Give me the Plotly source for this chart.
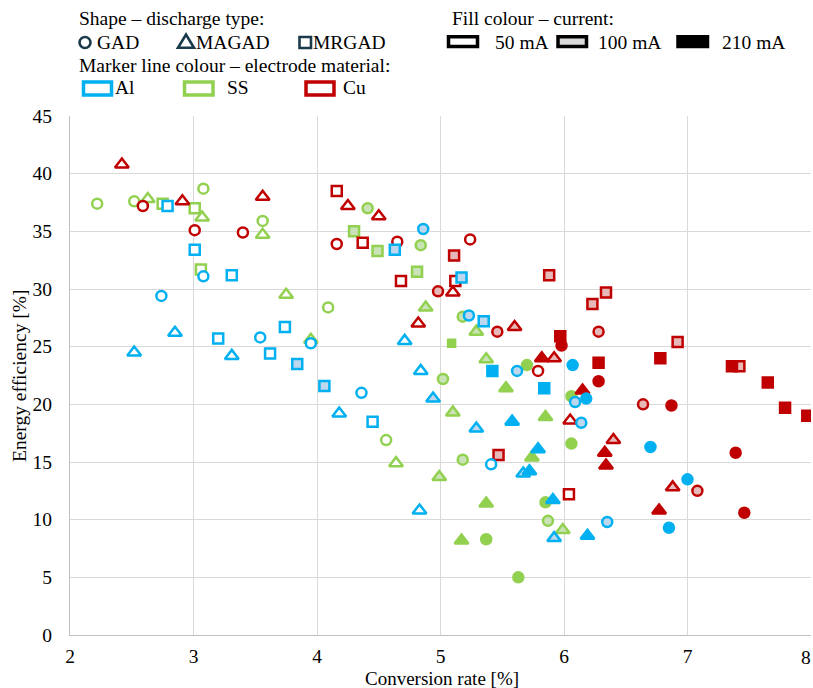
import plotly.graph_objects as go

# ---------------- data ----------------
# (discharge type, current in mA, conversion rate [%], energy efficiency [%])
ss_points = [
    ("GAD", 50, 2.22, 37.4), ("GAD", 50, 2.52, 37.6), ("MAGAD", 50, 2.63, 37.8), ("MRGAD", 50, 2.75, 37.4),
    ("GAD", 50, 3.08, 38.7), ("MRGAD", 50, 3.01, 37.0), ("MAGAD", 50, 3.07, 36.2), ("GAD", 50, 3.56, 35.9),
    ("MAGAD", 50, 3.56, 34.7), ("MRGAD", 50, 3.06, 31.7), ("MAGAD", 50, 3.75, 29.5), ("MAGAD", 50, 3.95, 25.6),
    ("GAD", 100, 4.41, 37.0), ("MRGAD", 100, 4.30, 35.0), ("MRGAD", 100, 4.49, 33.3), ("GAD", 100, 4.84, 33.8),
    ("MRGAD", 100, 4.81, 31.5), ("GAD", 50, 4.09, 28.4), ("MAGAD", 100, 4.88, 28.4), ("GAD", 100, 5.18, 27.6),
    ("MAGAD", 100, 5.29, 26.3), ("MRGAD", 210, 5.09, 25.3), ("MAGAD", 100, 5.37, 23.9), ("GAD", 210, 5.70, 23.4),
    ("GAD", 100, 5.02, 22.2), ("MAGAD", 100, 5.10, 19.3), ("MAGAD", 210, 5.85, 18.9), ("GAD", 50, 4.56, 16.9),
    ("GAD", 100, 5.18, 15.2), ("MAGAD", 50, 4.64, 14.9), ("MAGAD", 100, 4.99, 13.7), ("MAGAD", 210, 5.74, 15.4),
    ("MAGAD", 210, 5.37, 11.4), ("GAD", 210, 5.85, 11.5), ("GAD", 100, 5.87, 9.9), ("MAGAD", 210, 5.17, 8.2),
    ("GAD", 210, 5.37, 8.3), ("MAGAD", 210, 5.53, 21.4), ("GAD", 210, 5.63, 5.0), ("GAD", 210, 6.06, 20.7),
    ("GAD", 210, 6.06, 16.6), ("MAGAD", 100, 5.99, 9.1),
]
cu_points = [
    ("MAGAD", 50, 2.42, 40.8), ("GAD", 50, 2.59, 37.2), ("MAGAD", 50, 2.91, 37.6), ("GAD", 50, 3.01, 35.1),
    ("GAD", 50, 3.40, 34.9), ("MAGAD", 50, 3.56, 38.0), ("MRGAD", 50, 4.16, 38.5), ("MAGAD", 50, 4.25, 37.2),
    ("MAGAD", 50, 4.50, 36.3), ("GAD", 50, 4.16, 33.9), ("MRGAD", 50, 4.37, 34.0), ("GAD", 50, 4.65, 34.1),
    ("GAD", 50, 5.24, 34.3), ("MRGAD", 100, 5.11, 32.9), ("MRGAD", 50, 4.68, 30.7), ("MRGAD", 50, 5.12, 30.7),
    ("GAD", 100, 4.98, 29.8), ("MAGAD", 50, 5.10, 29.7), ("MRGAD", 100, 5.88, 31.2), ("MAGAD", 50, 4.82, 27.0),
    ("GAD", 100, 5.46, 26.3), ("MAGAD", 100, 5.60, 26.7), ("GAD", 50, 5.79, 22.9), ("MAGAD", 210, 5.82, 24.0),
    ("MAGAD", 100, 5.92, 24.0), ("MRGAD", 210, 5.97, 25.9), ("GAD", 210, 5.98, 25.1), ("MRGAD", 100, 5.47, 15.6),
    ("MRGAD", 100, 6.34, 29.7), ("MRGAD", 100, 6.23, 28.7), ("GAD", 100, 6.28, 26.3), ("MRGAD", 100, 6.92, 25.4),
    ("MRGAD", 210, 6.28, 23.6), ("MRGAD", 210, 6.78, 24.0), ("MRGAD", 210, 7.36, 23.3), ("MRGAD", 100, 7.42, 23.3),
    ("GAD", 210, 6.28, 22.0), ("MRGAD", 210, 7.65, 21.9), ("MAGAD", 210, 6.15, 21.2), ("GAD", 100, 6.64, 20.0),
    ("GAD", 210, 6.87, 19.9), ("MRGAD", 210, 7.79, 19.7), ("MRGAD", 210, 7.97, 19.0), ("MAGAD", 50, 6.05, 18.6),
    ("MAGAD", 100, 6.40, 16.9), ("MAGAD", 210, 6.33, 15.8), ("MAGAD", 210, 6.34, 14.7), ("GAD", 210, 7.39, 15.8),
    ("MAGAD", 100, 6.88, 12.8), ("GAD", 100, 7.08, 12.5), ("MRGAD", 50, 6.04, 12.2), ("MAGAD", 210, 6.77, 10.8),
    ("GAD", 210, 7.46, 10.6),
]
al_points = [
    ("MRGAD", 50, 2.79, 37.2), ("MRGAD", 50, 3.01, 33.4), ("GAD", 50, 3.08, 31.1), ("MRGAD", 50, 3.31, 31.2),
    ("GAD", 50, 2.74, 29.4), ("MAGAD", 50, 2.85, 26.2), ("MRGAD", 50, 3.20, 25.7), ("GAD", 50, 3.54, 25.8),
    ("MRGAD", 50, 3.74, 26.7), ("MAGAD", 50, 2.52, 24.5), ("MAGAD", 50, 3.31, 24.2), ("MRGAD", 50, 3.62, 24.4),
    ("MRGAD", 100, 3.84, 23.5), ("GAD", 50, 3.95, 25.3), ("GAD", 100, 4.86, 35.2), ("MRGAD", 100, 4.63, 33.4),
    ("MRGAD", 100, 5.17, 31.0), ("GAD", 100, 5.23, 27.7), ("MRGAD", 100, 5.35, 27.2), ("MAGAD", 50, 4.71, 25.5),
    ("MRGAD", 210, 5.42, 22.9), ("GAD", 100, 5.62, 22.9), ("MAGAD", 50, 4.84, 22.9), ("MRGAD", 100, 4.06, 21.6),
    ("GAD", 50, 4.36, 21.0), ("MAGAD", 100, 4.94, 20.5), ("MAGAD", 50, 4.18, 19.2), ("MRGAD", 50, 4.45, 18.5),
    ("MAGAD", 100, 5.29, 17.9), ("MAGAD", 210, 5.58, 18.5), ("GAD", 50, 5.41, 14.8), ("MAGAD", 210, 5.79, 16.1),
    ("MAGAD", 100, 5.67, 14.0), ("MAGAD", 210, 5.72, 14.2), ("MAGAD", 50, 4.83, 10.8), ("MAGAD", 210, 5.91, 11.7),
    ("MAGAD", 100, 5.92, 8.4), ("MRGAD", 210, 5.84, 21.4), ("GAD", 210, 6.07, 23.4), ("GAD", 100, 6.09, 20.2),
    ("GAD", 210, 6.18, 20.5), ("GAD", 100, 6.14, 18.4), ("GAD", 210, 6.70, 16.3), ("GAD", 210, 7.00, 13.5),
    ("GAD", 100, 6.35, 9.8), ("GAD", 210, 6.85, 9.3), ("MAGAD", 210, 6.19, 8.6),
]

x_ticks = [2, 3, 4, 5, 6, 7, 8]
y_ticks = [0, 5, 10, 15, 20, 25, 30, 35, 40, 45]
materials = {"SS": ss_points, "Cu": cu_points, "Al": al_points}   # drawing order
discharge_types = ["GAD", "MAGAD", "MRGAD"]
currents = [50, 100, 210]

# ---------------- styles ----------------
FONT = "Liberation Serif, Times New Roman, Tinos, serif"
line_col = {"Al": "#00B0F0", "SS": "#92D050", "Cu": "#C00000"}
light_col = {"Al": "#BDD7EE", "SS": "#C9E3B6", "Cu": "#E6B9B8"}
symbol = {"GAD": "circle", "MAGAD": "triangle-up", "MRGAD": "square"}
msize = {"GAD": 10, "MAGAD": 12, "MRGAD": 10}


def fill_for(mat, cur):
    if cur == 50:
        return "#FFFFFF"
    if cur == 100:
        return light_col[mat]
    return line_col[mat]


fig = go.Figure()
for mat, pts in materials.items():
    for cur in currents:
        for dt in discharge_types:
            sel = [p for p in pts if p[0] == dt and p[1] == cur]
            if not sel:
                continue
            size = msize[dt]
            if mat == "SS" and dt == "MRGAD" and cur == 210:
                size = 7
            fig.add_trace(go.Scatter(
                x=[p[2] for p in sel], y=[p[3] for p in sel], mode="markers", showlegend=False,
                name=f"{mat} {dt} {cur} mA",
                marker=dict(symbol=symbol[dt], size=size, color=fill_for(mat, cur),
                            line=dict(color=line_col[mat], width=2.5)),
            ))

# ---------------- layout ----------------
L, R, T, B, W, H = 70, 2, 116, 53, 813, 688
PW, PH = W - L - R, H - T - B


def px(xpix):
    return (xpix - L) / PW


def py(ypix):
    return (H - B - ypix) / PH


shapes = []
annotations = []
NAVY = "#1B3A4B"
fs = 19.5


def text(s, x, y):
    # x: desired left pixel of the glyphs
    annotations.append(dict(text=s, x=px(x - 2), y=py(y), xref="paper", yref="paper",
                            xanchor="left", yanchor="middle", showarrow=False,
                            font=dict(family=FONT, size=fs, color="#000000")))


# Shape legend
text("Shape – discharge type:", 79, 18)
shapes.append(dict(type="circle", xref="paper", yref="paper",
                   x0=px(79.5), x1=px(90.5), y0=py(48), y1=py(37),
                   line=dict(color=NAVY, width=2.6), fillcolor="#FFFFFF"))
text("GAD", 97, 42)
shapes.append(dict(type="path", xref="paper", yref="paper",
                   path=f"M {px(178)} {py(47.8)} L {px(194)} {py(47.8)} L {px(186)} {py(34.5)} Z",
                   line=dict(color=NAVY, width=2.6), fillcolor="#FFFFFF"))
text("MAGAD", 196, 42)
shapes.append(dict(type="rect", xref="paper", yref="paper",
                   x0=px(299.5), x1=px(311), y0=py(48), y1=py(37),
                   line=dict(color=NAVY, width=2.6), fillcolor="#FFFFFF"))
text("MRGAD", 313, 42)

# Line colour legend
text("Marker line colour – electrode material:", 79, 65)
for (x0, x1, mat, tx, lbl) in [(83.5, 111.5, "Al", 115, "Al"), (184.5, 213, "SS", 227, "SS"),
                               (306, 334, "Cu", 343, "Cu")]:
    shapes.append(dict(type="rect", xref="paper", yref="paper",
                       x0=px(x0), x1=px(x1), y0=py(95), y1=py(82),
                       line=dict(color=line_col[mat], width=3.5), fillcolor="#FFFFFF"))
    text(lbl, tx, 88)

# Fill legend
text("Fill colour – current:", 452, 18)
for (x0, x1, fc, tx, lbl) in [(448.5, 477.5, "#FFFFFF", 495, "50 mA"),
                              (558, 586.5, "#D9D9D9", 598, "100 mA"),
                              (678, 707.5, "#000000", 722, "210 mA")]:
    shapes.append(dict(type="rect", xref="paper", yref="paper",
                       x0=px(x0), x1=px(x1), y0=py(46.5), y1=py(36.8),
                       line=dict(color="#000000", width=3.5), fillcolor=fc))
    text(lbl, tx, 42)

# Axis titles
annotations.append(dict(text="Conversion rate [%]", x=px(442), y=py(678), xref="paper", yref="paper",
                        xanchor="center", yanchor="middle", showarrow=False, borderpad=0,
                        font=dict(family=FONT, size=19, color="#000000")))
annotations.append(dict(text="Energy efficiency [%]", x=px(19), y=py(376), xref="paper", yref="paper",
                        xanchor="center", yanchor="middle", showarrow=False, textangle=-90,
                        font=dict(family=FONT, size=fs, color="#000000")))

# last x tick label, nudged inside the page like the reference
x_ticktext = [str(v) for v in x_ticks]
last_label = x_ticktext[-1]
x_ticktext[-1] = ""
annotations.append(dict(text=last_label, x=px(806), y=py(657), xref="paper", yref="paper",
                        xanchor="center", yanchor="middle", showarrow=False, borderpad=0,
                        font=dict(family=FONT, size=fs, color="#000000")))

fig.update_layout(
    width=W, height=H,
    margin=dict(l=L, r=R, t=T, b=B, autoexpand=False),
    paper_bgcolor="#FFFFFF", plot_bgcolor="#FFFFFF",
    font=dict(family=FONT, size=fs, color="#000000"),
    shapes=shapes, annotations=annotations,
    xaxis=dict(range=[2, 8], tickvals=x_ticks, ticktext=x_ticktext,
               showgrid=True, gridcolor="#D9D9D9", gridwidth=1.3, zeroline=False,
               showline=True, linecolor="#BFBFBF", linewidth=1.3, ticks="",
               ticklabeloverflow="allow",
               ticklabelstandoff=3, tickfont=dict(family=FONT, size=fs, color="#000000")),
    yaxis=dict(range=[0, 45], tickvals=y_ticks, ticktext=[str(v) for v in y_ticks],
               showgrid=True, gridcolor="#D9D9D9", gridwidth=1.3, zeroline=False,
               showline=True, linecolor="#BFBFBF", linewidth=1.3, ticks="",
               ticklabeloverflow="allow",
               ticklabelstandoff=13, tickfont=dict(family=FONT, size=fs, color="#000000")),
)

fig.write_html("out.html", config={"displayModeBar": False},
               post_script="document.body.style.margin='0';document.body.style.padding='0';")
